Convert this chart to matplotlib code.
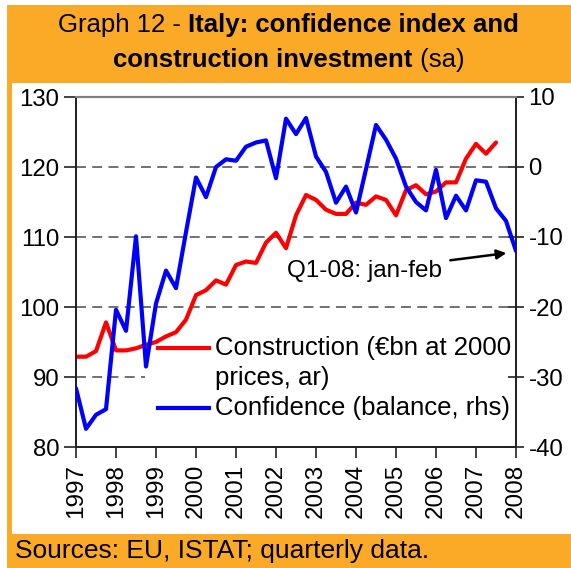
import matplotlib
matplotlib.use("Agg")
import matplotlib.pyplot as plt
from matplotlib.patches import Rectangle
import numpy as np

plt.rcParams['font.family'] = ['Liberation Sans', 'DejaVu Sans']

# ---- data (quarterly, starting 1997 Q1) ----
construction = [92.9, 92.9, 93.7, 97.8, 93.8, 93.8, 94.1, 94.6, 95.0, 95.8,
                96.4, 98.2, 101.7, 102.4, 103.8, 103.2, 106.0, 106.5, 106.3, 109.2,
                110.6, 108.4, 113.1, 116.0, 115.3, 113.9, 113.3, 113.3, 114.9, 114.6,
                115.8, 115.3, 113.1, 116.7, 117.4, 116.1, 116.5, 117.8, 117.8, 121.2,
                123.3, 121.9, 123.5]
confidence = [-31.6, -37.4, -35.4, -34.6, -20.4, -23.4, -9.9, -28.5, -19.5, -14.8,
              -17.3, -9.3, -1.5, -4.3, 0.0, 1.1, 0.9, 2.9, 3.5, 3.8,
              -1.6, 6.9, 4.7, 7.0, 1.5, -0.7, -5.1, -2.8, -6.5, -0.3,
              6.0, 3.9, 1.2, -2.8, -5.0, -6.2, -0.4, -7.3, -4.1, -6.2,
              -1.9, -2.1, -5.9, -7.7, -12.0]
start_year = 1997
years = list(range(1997, 2009))
left_ticks = [80, 90, 100, 110, 120, 130]
right_ticks = [-40, -30, -20, -10, 0, 10]

x_con = start_year + np.arange(len(construction)) * 0.25
x_conf = start_year + np.arange(len(confidence)) * 0.25

ORANGE = '#FBAA27'
W, H = 571, 568
fig = plt.figure(figsize=(W / 100, H / 100), dpi=100)

# background panels
fig.patches.append(Rectangle((7 / W, 0), 1 - 7 / W, 1 - 5 / H, transform=fig.transFigure,
                             facecolor=ORANGE, edgecolor='none', zorder=-10))
fig.patches.append(Rectangle((12 / W, 1 - 534 / H), 1 - 12 / W, (534 - 83) / H,
                             transform=fig.transFigure, facecolor='white',
                             edgecolor='none', zorder=-9))

L, R, T, B = 76, 516, 97, 447
ax = fig.add_axes([L / W, 1 - B / H, (R - L) / W, (B - T) / H])
ax.patch.set_visible(False)
ax2 = ax.twinx()
ax2.patch.set_visible(False)

ax.set_xlim(1997, 2008)
ax.set_ylim(80, 130)
ax2.set_ylim(-40, 10)

# gridlines
for v in [90, 100, 110, 120]:
    ax.axhline(v, color='#666666', lw=1.3, ls=(0, (5.5, 3.5)), zorder=1)

# legend background box covering gridlines
ax.add_patch(Rectangle((0.157, 0.0), 0.843, 0.35, transform=ax.transAxes,
                       facecolor='white', edgecolor='none', zorder=1.5))

ax.plot(x_con, construction, color='#FF0000', lw=3.0, zorder=3,
        solid_joinstyle='round', solid_capstyle='round')
ax2.plot(x_conf, confidence, color='#0000FF', lw=3.0, zorder=3,
         solid_joinstyle='round', solid_capstyle='round')

# spines
for a in (ax, ax2):
    a.spines['top'].set_color('#808080')
    a.spines['top'].set_linewidth(1.5)
    for s in ('left', 'right', 'bottom'):
        a.spines[s].set_linewidth(1.3)
        a.spines[s].set_color('#222222')

ax.set_yticks(left_ticks)
ax.set_yticklabels([str(v) for v in left_ticks])
ax2.set_yticks(right_ticks)
ax2.set_yticklabels([str(v) for v in right_ticks])
ax.set_xticks(years)
ax.set_xticklabels([str(y) for y in years], rotation=90)

ax.tick_params(axis='y', direction='out', length=9, width=1.3, color='#333333',
               labelsize=17.3, pad=3)
ax2.tick_params(axis='y', direction='inout', length=12, width=1.3, color='#333333',
                labelsize=17.3, pad=3)
ax.tick_params(axis='x', direction='out', length=8, width=1.3, color='#333333',
               labelsize=17.5, pad=4)

# legend (drawn manually)
ax2.plot([0.186, 0.302], [0.283, 0.283], transform=ax.transAxes, color='#FF0000',
         lw=3.0, clip_on=False, zorder=5)
ax2.plot([0.186, 0.302], [0.111, 0.111], transform=ax.transAxes, color='#0000FF',
         lw=3.0, clip_on=False, zorder=5)
LEG = 18.5
ax2.text(0.316, 0.283, 'Construction (€bn at 2000', transform=ax.transAxes,
         fontsize=LEG, va='center', ha='left', zorder=5)
ax2.text(0.316, 0.197, 'prices, ar)', transform=ax.transAxes,
         fontsize=LEG, va='center', ha='left', zorder=5)
ax2.text(0.316, 0.111, 'Confidence (balance, rhs)', transform=ax.transAxes,
         fontsize=LEG, va='center', ha='left', zorder=5)

# annotation
ax2.annotate('Q1-08: jan-feb', xy=(2007.76, -12.3), xytext=(2006.15, -14.9),
             fontsize=17.5, ha='right', va='center',
             arrowprops=dict(arrowstyle='-|>', color='black', lw=1.8,
                             mutation_scale=14, shrinkA=4, shrinkB=0),
             zorder=6)

# title with mixed weights
fig.canvas.draw()
renderer = fig.canvas.get_renderer()


def mixed_line(parts, y, size):
    texts = []
    for s, w in parts:
        t = fig.text(0, y, s, fontsize=size, fontweight=w, va='center', ha='left')
        texts.append(t)
    widths = [t.get_window_extent(renderer).width for t in texts]
    total = sum(widths)
    x = (W * 0.506 - total / 2)
    for t, wd in zip(texts, widths):
        t.set_x(x / W)
        x += wd


mixed_line([('Graph 12 - ', 'normal'), ('Italy: confidence index and', 'bold')],
           1 - 25 / H, 18.5)
mixed_line([('construction investment', 'bold'), (' (sa)', 'normal')],
           1 - 60 / H, 18.5)

fig.text(15 / W, 1 - 551 / H, 'Sources: EU, ISTAT; quarterly data.', fontsize=19,
         va='center', ha='left')

fig.savefig('out.png', dpi=100)
